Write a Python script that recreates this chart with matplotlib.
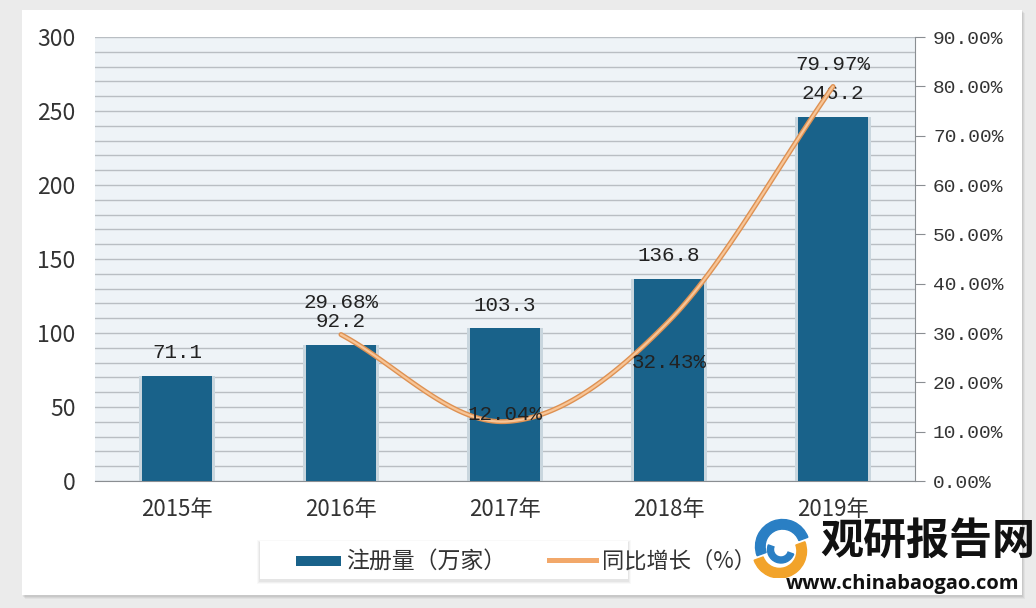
import numpy as np
import matplotlib.pyplot as plt
from matplotlib.patches import Rectangle, Wedge
from matplotlib.ticker import FuncFormatter, MultipleLocator

plt.rcParams['font.family'] = ['Noto Sans CJK SC', 'DejaVu Sans']

# data
years = ['2015年', '2016年', '2017年', '2018年', '2019年']
registered = [71.1, 92.2, 103.3, 136.8, 246.2]
growth = [None, 29.68, 12.04, 32.43, 79.97]
bar_label = ['71.1', '92.2', '103.3', '136.8', '246.2']
growth_label = ['', '29.68%', '12.04%', '32.43%', '79.97%']

BAR_C = '#19628a'
LINE_C = '#f2a86a'
NUM_FONT = ['Liberation Mono', 'DejaVu Sans Mono']

fig = plt.figure(figsize=(10.36, 6.08), dpi=100)
fig.patch.set_facecolor('#ebebeb')

def fig_rect(x0, y0, w, h, z, **kw):
    # pixel coords from top-left
    r = Rectangle((x0/1036, 1 - (y0 + h)/608), w/1036, h/608,
                  transform=fig.transFigure, zorder=z, **kw)
    fig.patches.append(r)
    return r

# white panel with soft shadow
for i, a in enumerate([0.04, 0.05, 0.06]):
    d = 3 - i
    fig_rect(22 + d, 10 + d, 1000, 586, -10 + i, facecolor='black', alpha=a, edgecolor='none')
fig_rect(22, 10, 1000, 585, -5, facecolor='white', edgecolor='none')

ax = fig.add_axes([95/1036, 1 - 481/608, 820/1036, 444/608])
ax.set_facecolor('#eef3f7')
x = np.arange(len(years))

ax.set_ylim(0, 300)
ax.set_xlim(-0.5, 4.5)
ax.yaxis.set_major_locator(MultipleLocator(50))
ax.yaxis.set_minor_locator(MultipleLocator(10))
ax.grid(True, which='both', axis='y', color='#b9bec3', lw=1.0, zorder=0)
ax.set_axisbelow(True)

# bar glow
ax.bar(x, registered, width=0.46, color='#c9d6de', zorder=2)
ax.bar(x, registered, width=0.43, color=BAR_C, zorder=3)
for xi, v, t in zip(x, registered, bar_label):
    ax.text(xi, v + 9, t, ha='center', va='bottom', fontsize=15, color='#222222',
            family=NUM_FONT, zorder=6)

ax.set_xticks(x)
ax.set_xticklabels(years, fontsize=16, color='#333333')
ax.tick_params(axis='x', length=0, pad=12)
ax.tick_params(axis='y', which='both', length=0, labelsize=16.5, labelcolor='#333333', pad=14)
for s in ['top', 'right', 'left']:
    ax.spines[s].set_visible(False)
ax.spines['bottom'].set_color('#8a8e92')

ax2 = ax.twinx()
ax2.set_ylim(0, 90)
ax2.yaxis.set_major_locator(MultipleLocator(10))
ax2.yaxis.set_major_formatter(FuncFormatter(lambda v, p: '%.2f%%' % v))
for s in ['top', 'left', 'bottom']:
    ax2.spines[s].set_visible(False)
ax2.spines['right'].set_color('#8a8e92')
ax2.tick_params(axis='y', length=7, color='#8a8e92', labelsize=14, labelcolor='#333333', pad=6)
for lab in ax2.get_yticklabels():
    lab.set_family(NUM_FONT)

# smoothed growth line (Catmull-Rom through the data points)
px = np.array(x[1:], dtype=float)
py = np.array(growth[1:], dtype=float)
P = np.column_stack([px, py / 90.0])
P = np.vstack([P[0] - (P[1] - P[0]), P, P[-1] + (P[-1] - P[-2])])
cx, cy = [], []
for i in range(1, len(P) - 2):
    p0, p1, p2, p3 = P[i - 1], P[i], P[i + 1], P[i + 2]
    t = np.linspace(0, 1, 40)[:, None]
    seg = 0.5 * ((2 * p1) + (-p0 + p2) * t + (2 * p0 - 5 * p1 + 4 * p2 - p3) * t**2
                 + (-p0 + 3 * p1 - 3 * p2 + p3) * t**3)
    cx.extend(seg[:, 0])
    cy.extend(seg[:, 1] * 90.0)
ax2.plot(cx, cy, color='#de9152', lw=3.6, solid_capstyle='round', zorder=4)
ax2.plot(cx, cy, color='#f7c597', lw=1.6, solid_capstyle='round', zorder=5)

offs = {1: 6.5, 2: 1.5, 3: -8.5, 4: 4.5}
for i in range(1, 5):
    ax2.text(x[i], growth[i] + offs[i], growth_label[i], ha='center', va='center',
             fontsize=15, color='#222222', family=NUM_FONT, zorder=6)

# legend box
for i, a in enumerate([0.025, 0.035, 0.045]):
    d = 3 - i
    fig_rect(260 - d, 541 - d + 2, 368 + 2*d, 38 + 2*d, -4.5 + i*0.1, facecolor='black',
             alpha=a, edgecolor='none')
fig_rect(260, 541, 368, 38, -3, facecolor='white', edgecolor='none')
fig_rect(296, 556, 45, 10, -2, facecolor=BAR_C, edgecolor='none')
fig.text(346/1036, 1 - 561/608, '注册量（万家）', fontsize=16.5, color='#333333', va='center')
fig_rect(547, 558, 52, 5, -2, facecolor=LINE_C, edgecolor='none')
fig.text(602/1036, 1 - 561/608, '同比增长（%）', fontsize=16, color='#333333', va='center')

# watermark logo
lax = fig.add_axes([748/1036, 1 - 578/608, 66/1036, 60/608])
lax.set_xlim(-1, 1)
lax.set_ylim(-1, 1)
lax.set_aspect('equal')
lax.axis('off')
lax.add_patch(Wedge((0.05, 0.05), 0.9, 20, 200, width=0.32, color='#2a7fc4'))
lax.add_patch(Wedge((-0.05, -0.1), 0.9, 200, 380, width=0.32, color='#f2a32a'))
lax.add_patch(Wedge((0.0, -0.05), 0.45, 160, 340, width=0.2, color='#2a7fc4'))
fig.text(820/1036, 1 - 541/608, '观研报告网', fontsize=31, fontweight='black',
         color='#111111', va='center', ha='left')
fig.text(1019/1036, 1 - 584/608, 'www.chinabaogao.com', fontsize=14.5, fontweight='bold',
         color='#111111', va='center', ha='right', family=['Open Sans', 'DejaVu Sans'])

fig.savefig('out.png', dpi=100, facecolor=fig.get_facecolor())
